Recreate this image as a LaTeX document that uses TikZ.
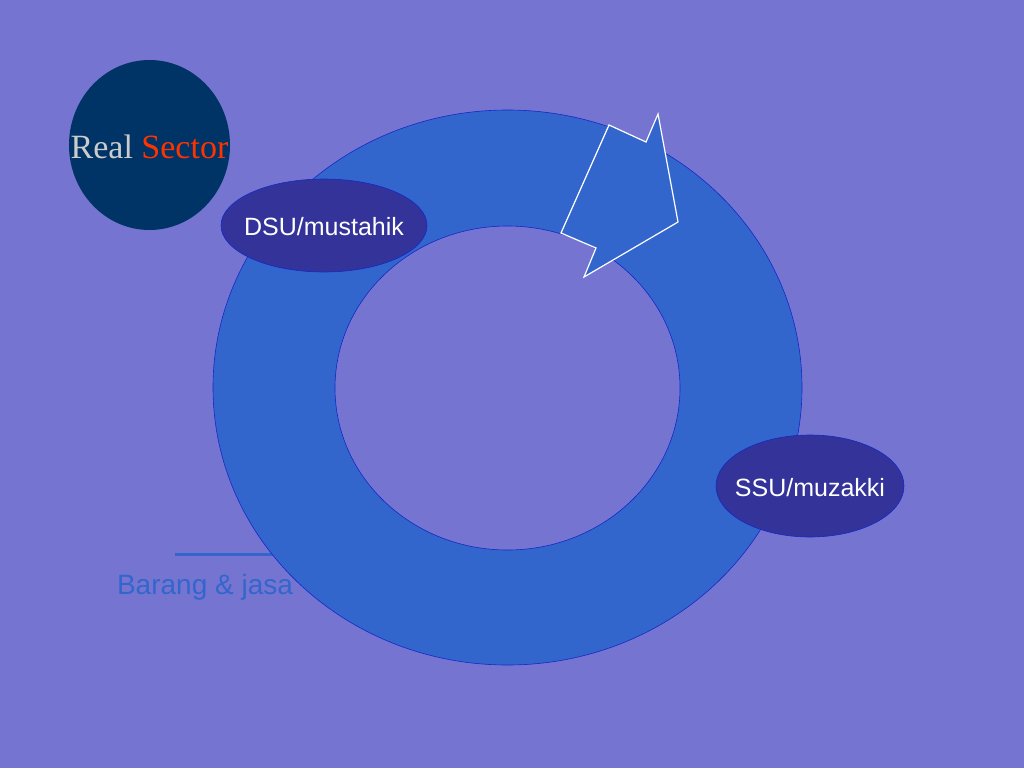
\documentclass[tikz,border=0pt]{standalone}
\usepackage{fontspec}
\setmainfont{Liberation Sans}
\newfontfamily\timesfont{Liberation Serif}
\usetikzlibrary{shapes.geometric}
\definecolor{bgcol}{RGB}{117,117,209}
\definecolor{ringblue}{RGB}{51,102,204}
\definecolor{ringedge}{RGB}{20,40,200}
\definecolor{ellfill}{RGB}{51,51,153}
\definecolor{navy}{RGB}{0,51,102}
\definecolor{lightgray}{RGB}{204,204,204}
\definecolor{sectred}{RGB}{255,51,0}
\tikzset{
  party/.style={ellipse, fill=ellfill, draw=ringedge, line width=0.6pt, inner sep=0pt},
  partytext/.style={text=white, font=\fontsize{25}{30}\selectfont, inner sep=0pt},
}
\begin{document}
\begin{tikzpicture}[x=1pt,y=-1pt]
\fill[bgcol] (0,0) rectangle (1024,768);
\useasboundingbox (0,0) rectangle (1024,768);
% Real Sector circle
\node[ellipse, fill=navy, minimum width=161pt, minimum height=170pt, inner sep=0pt] (real) at (149.5,145) {};
\node[font=\timesfont\fontsize{34}{40}\selectfont, inner sep=0pt] (realtxt) at (149.5,147) {\textcolor{lightgray}{Real} \textcolor{sectred}{Sector}};
% line and label
\coordinate (l1) at (175,554);
\coordinate (l2) at (290,554);
\draw[ringblue, line width=3pt] (l1) -- (l2);
\node[text=ringblue, font=\fontsize{28}{33}\selectfont, inner sep=0pt] (barang) at (205,587) {Barang \& jasa};
% ring
\fill[ringblue, even odd rule] (507.5,387.5) ellipse [x radius=294.5, y radius=277.5]
  (507.5,388) ellipse [x radius=172.5, y radius=162];
\draw[ringedge, line width=0.6pt] (507.5,387.5) ellipse [x radius=294.5, y radius=277.5];
\draw[ringedge, line width=0.6pt] (507.5,388) ellipse [x radius=172.5, y radius=162];
% arrow
\draw[white, fill=ringblue, line width=1.2pt, line join=miter]
  (609,125) -- (646,142) -- (658,114) -- (678,222) -- (584,277) -- (596,248) -- (561,233) -- cycle;
% ellipses
\node[party, minimum width=206pt, minimum height=93pt] (dsu) at (324,225.5) {};
\node[partytext] (dsutxt) at (324,227) {DSU/mustahik};
\node[party, minimum width=188pt, minimum height=102pt] (ssu) at (810,486) {};
\node[partytext] (ssutxt) at (810,488) {SSU/muzakki};
\end{tikzpicture}
\end{document}
